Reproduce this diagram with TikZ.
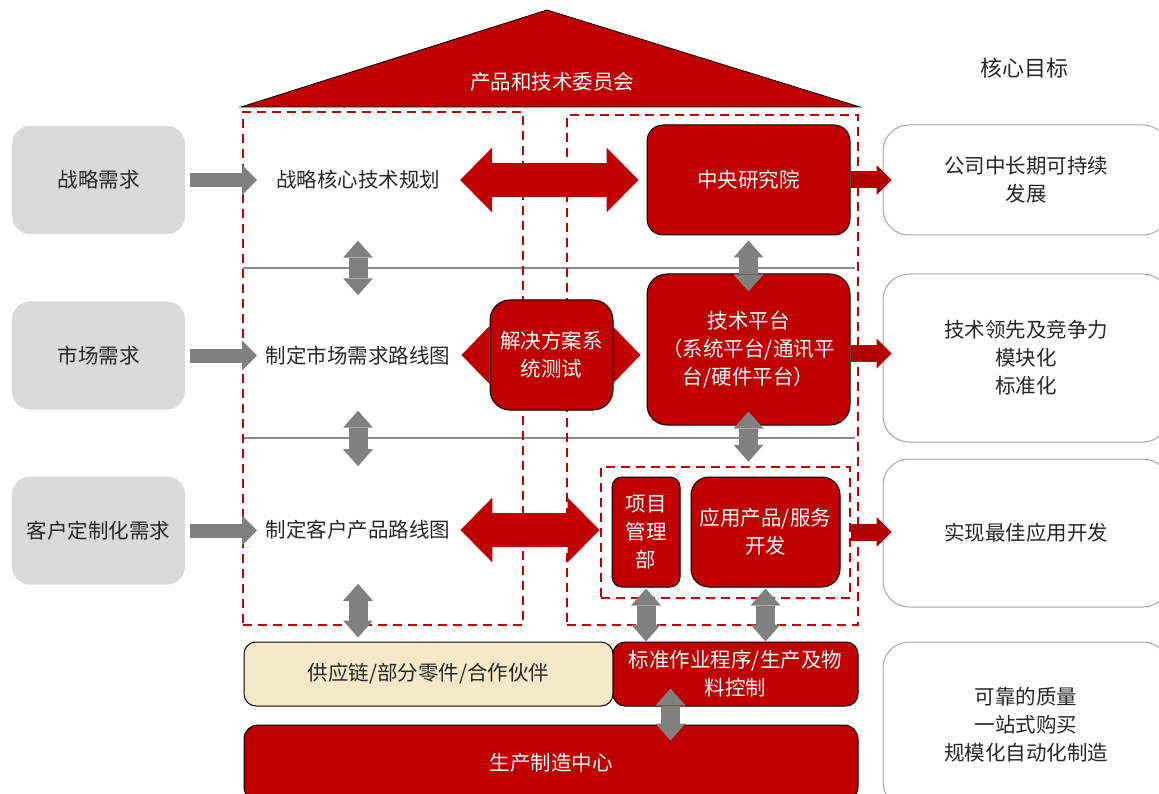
\documentclass[tikz,border=0pt]{standalone}
\usepackage{fontspec}
\setmainfont{Noto Sans CJK SC}
\usepackage{xcolor}
\usetikzlibrary{arrows.meta,backgrounds}
\definecolor{hrred}{HTML}{C00000}
\definecolor{outred}{HTML}{B20000}
\definecolor{arrgray}{HTML}{808080}
\definecolor{linegray}{HTML}{8C8C8C}
\definecolor{needgray}{HTML}{D9D9D9}
\definecolor{cream}{HTML}{F5E8C8}
\definecolor{goalgray}{HTML}{A6A6A6}
\definecolor{textdark}{HTML}{262626}

\begin{document}
\begin{tikzpicture}[x=1pt,y=-1pt,font=\fontsize{20.5}{28}\selectfont,
    needbox/.style={fill=needgray, rounded corners=18pt, minimum width=173pt, minimum height=108pt, inner sep=0pt, text=textdark},
    plantext/.style={inner sep=0pt, text=textdark},
    redbox/.style={fill=hrred, draw=black, line width=1pt, rounded corners=16pt, text=white, align=center, inner sep=0pt},
    goalbox/.style={draw=goalgray, line width=1pt, rounded corners=26pt, align=center, minimum width=286pt, inner sep=0pt, text=textdark},
    dashbox/.style={draw=hrred, line width=2.5pt, dash pattern=on 9pt off 6pt, inner sep=0pt},
    rowline/.style={draw=linegray, line width=2.5pt},
    greyright/.style={draw=arrgray, line width=14pt, -{Triangle[width=30pt,length=15pt,line width=0pt]}},
    greyvert/.style={draw=arrgray, line width=19pt, {Triangle[width=30pt,length=17pt,line width=0pt]}-{Triangle[width=30pt,length=17pt,line width=0pt]}},
    reddouble/.style={draw=hrred, line width=34pt, {Triangle[width=65pt,length=32pt,line width=0pt]}-{Triangle[width=65pt,length=32pt,line width=0pt]}},
    redtips/.style={draw=hrred, line width=20pt, {Triangle[width=58pt,length=28pt,line width=0pt]}-{Triangle[width=58pt,length=28pt,line width=0pt]}},
    redout/.style={draw=outred, line width=17pt, -{Triangle[width=30pt,length=15pt,line width=0pt]}}]
\useasboundingbox (0,0) rectangle (1159,794);
\clip (0,0) rectangle (1159,794);

\filldraw[fill=hrred, draw=black, line width=0.8pt] (241,107) -- (547,10) -- (860,107) -- cycle;
\node[text=white] (committee) at (552,82) {产品和技术委员会};
\node[text=textdark, font=\fontsize{22}{28}\selectfont] (goaltitle) at (1024,68) {核心目标};

\draw[rowline] (243,268) -- (855,268);
\draw[rowline] (243,438) -- (855,438);
\node[dashbox, minimum width=280pt, minimum height=513pt] (planzone) at (383,368.5) {};
\node[dashbox, minimum width=291pt, minimum height=510pt] (techzone) at (712.5,370) {};
\node[dashbox, minimum width=249pt, minimum height=131pt] (appgroup) at (725.5,532.5) {};

\node[needbox] (strategy) at (98.5,180) {战略需求};
\node[needbox] (market) at (98.5,355.5) {市场需求};
\node[needbox] (custom) at (98.5,530.5) {客户定制化需求};

\node[plantext] (plancore) at (358,180) {战略核心技术规划};
\node[plantext] (planmarket) at (358,356) {制定市场需求路线图};
\node[plantext] (plancustom) at (358,530) {制定客户产品路线图};

\node[redbox, minimum width=203pt, minimum height=110pt] (institute) at (748.5,180) {中央研究院};
\node[redbox, minimum width=203pt, minimum height=151pt, rounded corners=20pt] (platform) at (748.5,349.5) {技术平台\\（系统平台/通讯平\\台/硬件平台）};
\node[redbox, minimum width=123pt, minimum height=110pt, rounded corners=20pt] (systest) at (551.5,355) {解决方案系\\统测试};
\node[redbox, minimum width=68pt, minimum height=110pt, rounded corners=10pt] (pmo) at (646,532) {项目\\管理\\部};
\node[redbox, minimum width=149pt, minimum height=110pt, rounded corners=18pt] (appdev) at (765.5,532) {应用产品/服务\\开发};
\node[redbox, fill=cream, text=textdark, minimum width=369pt, minimum height=64pt, rounded corners=12pt] (supply) at (428.5,674) {供应链/部分零件/合作伙伴};
\node[redbox, minimum width=245pt, minimum height=64pt, rounded corners=12pt] (sop) at (735.5,674) {标准作业程序/生产及物\\料控制};
\node[redbox, minimum width=614pt, minimum height=76pt, rounded corners=14pt] (factory) at (551,763) {生产制造中心};

\node[goalbox, minimum height=110pt] (goallong) at (1026,180) {公司中长期可持续\\发展};
\node[goalbox, minimum height=168pt] (goaltech) at (1026,358) {技术领先及竞争力\\模块化\\标准化};
\node[goalbox, minimum height=148pt] (goalapp) at (1026,533) {实现最佳应用开发};
\node[goalbox, minimum height=166pt] (goalquality) at (1026,725) {可靠的质量\\一站式购买\\规模化自动化制造};

\begin{scope}[on background layer]
\draw[redtips, shorten <=-28pt, shorten >=-27pt] (systest.west) -- (systest.east);
\end{scope}

\draw[greyright] ([xshift=5pt]strategy.east) -- ++(67,0);
\draw[greyright] ([xshift=5pt]market.east) -- ++(67,0);
\draw[greyright] ([xshift=5pt]custom.east) -- ++(67,0);

\draw[reddouble, shorten <=20pt, shorten >=8pt] (plancore.east) -- (institute.west);
\draw[reddouble, shorten <=10pt, shorten >=12pt] (plancustom.east) -- (plancustom.east -| pmo.west);

\draw[redout, shorten >=-9pt] (institute.east) -- (goallong.west);
\draw[redout, shorten >=-9pt] ([yshift=-4pt]platform.east) -- ([yshift=-4pt]platform.east -| goaltech.west);
\draw[redout, shorten <=10pt, shorten >=-9pt] (appdev.east) -- (appdev.east -| goalapp.west);

\draw[greyvert, shorten <=51pt, shorten >=51pt] (plancore.south) -- (planmarket.north);
\draw[greyvert, shorten <=45pt, shorten >=54pt] (planmarket.south) -- (plancustom.north);
\draw[greyvert, shorten <=44pt, shorten >=4pt] (plancustom.south) -- (plancustom.south |- supply.north);
\draw[greyvert, shorten <=5pt, shorten >=-18pt] (institute.south) -- (platform.north);
\draw[greyvert, shorten <=-14pt, shorten >=4pt] (platform.south) -- (platform.south |- appgroup.north);
\draw[greyvert, shorten <=1pt] (pmo.south) -- (pmo.south |- sop.north);
\draw[greyvert, shorten <=1pt] (appdev.south) -- (appdev.south |- sop.north);
\draw[greyvert, shorten <=-18pt, shorten >=-16pt] ([xshift=-65pt]sop.south) -- ([xshift=-65pt]sop.south |- factory.north);
\end{tikzpicture}
\end{document}
